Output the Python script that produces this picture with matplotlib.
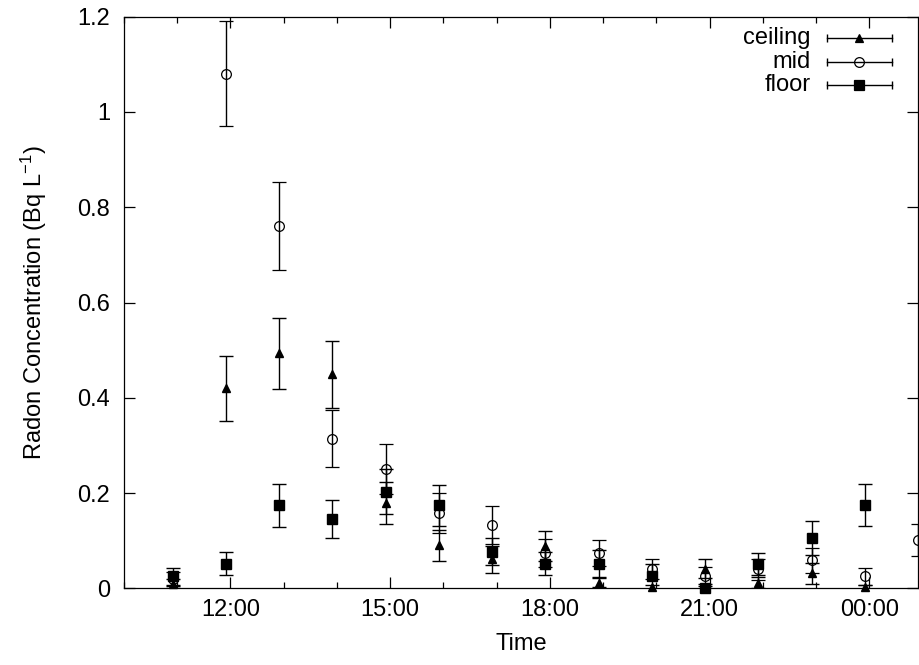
import matplotlib
matplotlib.use('Agg')
import matplotlib.pyplot as plt
import matplotlib.dates as mdates
import pandas as pd

plt.rcParams['font.family'] = ['Liberation Sans', 'DejaVu Sans']
plt.rcParams['mathtext.fontset'] = 'custom'
plt.rcParams['mathtext.rm'] = 'Liberation Sans'
plt.rcParams['mathtext.default'] = 'regular'

# sampling times (hourly, taken at :55)
times = pd.to_datetime([
    '2000-01-01 10:55', '2000-01-01 11:55', '2000-01-01 12:55', '2000-01-01 13:55',
    '2000-01-01 14:55', '2000-01-01 15:55', '2000-01-01 16:55', '2000-01-01 17:55',
    '2000-01-01 18:55', '2000-01-01 19:55', '2000-01-01 20:55', '2000-01-01 21:55',
    '2000-01-01 22:55', '2000-01-01 23:55', '2000-01-02 00:55',
])

ceiling = [0.010, 0.420, 0.493, 0.449, 0.179, 0.090, 0.061, 0.089, 0.012, 0.002, 0.041, 0.012, 0.032, 0.002]
ceiling_err = [0.010, 0.068, 0.074, 0.070, 0.045, 0.033, 0.028, 0.031, 0.010, 0.004, 0.020, 0.012, 0.022, 0.004]

mid = [0.020, 1.080, 0.761, 0.314, 0.251, 0.158, 0.133, 0.074, 0.074, 0.041, 0.025, 0.040, 0.059, 0.025, 0.101]
mid_err = [0.015, 0.110, 0.092, 0.060, 0.053, 0.042, 0.039, 0.030, 0.028, 0.021, 0.020, 0.022, 0.026, 0.017, 0.033]

floor = [0.025, 0.052, 0.174, 0.146, 0.203, 0.174, 0.077, 0.052, 0.052, 0.025, 0.000, 0.052, 0.106, 0.174]
floor_err = [0.018, 0.024, 0.045, 0.040, 0.048, 0.043, 0.029, 0.025, 0.028, 0.027, 0.010, 0.023, 0.035, 0.044]

fig = plt.figure(figsize=(9.19, 6.65), dpi=100)
ax = fig.add_axes([0.1349, 0.1153, 0.9989 - 0.1349, 0.9749 - 0.1153])

common = dict(color='black', ecolor='black', elinewidth=1.0, capsize=5, capthick=1.0,
              linestyle='none')
series = [
    ax.errorbar(times[:len(ceiling)], ceiling, yerr=ceiling_err, fmt='^', ms=6, **common),
    ax.errorbar(times, mid, yerr=mid_err, fmt='o', ms=7, mfc='none', mew=0.9, **common),
    ax.errorbar(times[:len(floor)], floor, yerr=floor_err, fmt='s', ms=7, **common),
]
# points sitting on the frame are drawn in full
for cont in series:
    for art in cont.lines[:1]:
        art.set_clip_on(False)

ax.set_xlim(pd.Timestamp('2000-01-01 10:00'), pd.Timestamp('2000-01-02 00:55'))
ax.set_ylim(0, 1.2)
ax.set_yticks([0, 0.2, 0.4, 0.6, 0.8, 1.0, 1.2])
ax.set_yticklabels(['0', '0.2', '0.4', '0.6', '0.8', '1', '1.2'])

ax.xaxis.set_major_locator(mdates.HourLocator(byhour=[0, 3, 6, 9, 12, 15, 18, 21]))
ax.xaxis.set_minor_locator(mdates.HourLocator())
ax.xaxis.set_major_formatter(mdates.DateFormatter('%H:%M'))

ax.tick_params(which='both', direction='in', top=True, right=True, width=0.9, labelsize=17)
ax.tick_params(axis='y', which='major', length=8, pad=10)
ax.tick_params(axis='x', which='major', length=8, pad=8)
ax.tick_params(axis='x', which='minor', length=4)
for s in ax.spines.values():
    s.set_linewidth(0.9)

ax.set_xlabel('Time', fontsize=17)
ax.set_ylabel('Radon Concentration (Bq L$^{-1}$)', fontsize=17)
ax.xaxis.set_label_coords(0.5, -0.078)
ax.yaxis.set_label_coords(-0.095, 0.5)

# gnuplot-style key with horizontal error bar samples
key = [('ceiling', '^', 6, 'black'), ('mid', 'o', 7, 'none'), ('floor', 's', 7, 'black')]
key_y = [0.962, 0.921, 0.881]
for (label, m, size, face), yk in zip(key, key_y):
    ax.text(0.8652, yk, label, transform=ax.transAxes, ha='right', va='center', fontsize=17)
    ax.plot([0.885, 0.967], [yk, yk], color='black', lw=1.0, transform=ax.transAxes)
    ax.plot([0.885, 0.967], [yk, yk], color='black', ls='none', marker='|', ms=6,
            mew=1.0, transform=ax.transAxes)
    ax.plot([0.926], [yk], color='black', marker=m, ms=size, mfc=face, mew=0.9,
            transform=ax.transAxes)

fig.savefig('out.png', dpi=100)
